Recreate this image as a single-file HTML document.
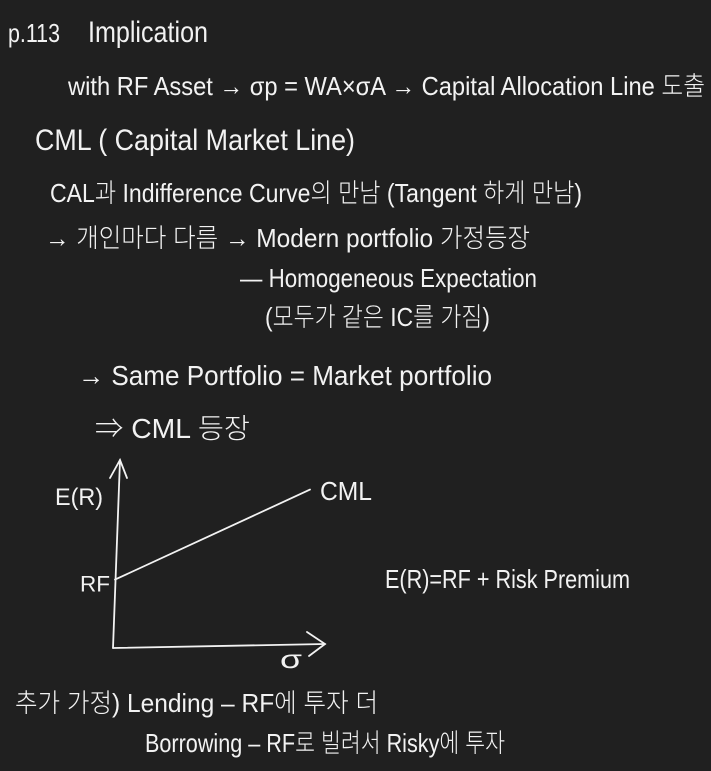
<!DOCTYPE html>
<html>
<head>
<meta charset="utf-8">
<style>
  html,body{margin:0;padding:0;background:#202020;}
  svg{display:block;}
  text{fill:#f2f2f2;font-family:"Liberation Sans","Noto Sans CJK KR",sans-serif;font-weight:300;}
</style>
</head>
<body>
<svg id="note" width="711" height="771" viewBox="0 0 711 771">
  <rect width="711" height="771" fill="#202020"/>
  <text x="8" y="42" font-size="26" textLength="52" lengthAdjust="spacingAndGlyphs">p.113</text>
  <text x="88" y="42" font-size="30" textLength="120" lengthAdjust="spacingAndGlyphs">Implication</text>
  <text x="68" y="95" font-size="26" textLength="637" lengthAdjust="spacingAndGlyphs">with RF Asset → σp = WA×σA → Capital Allocation Line 도출</text>
  <text x="35" y="150" font-size="30" textLength="320" lengthAdjust="spacingAndGlyphs">CML ( Capital Market Line)</text>
  <text x="50" y="202" font-size="26" textLength="532" lengthAdjust="spacingAndGlyphs">CAL과 Indifference Curve의 만남 (Tangent 하게 만남)</text>
  <text x="45" y="247" font-size="26" textLength="485" lengthAdjust="spacingAndGlyphs">→ 개인마다 다름 → Modern portfolio 가정등장</text>
  <text x="240" y="287" font-size="26" textLength="297" lengthAdjust="spacingAndGlyphs">— Homogeneous  Expectation</text>
  <text x="265" y="326" font-size="26" textLength="225" lengthAdjust="spacingAndGlyphs">(모두가 같은 IC를 가짐)</text>
  <text x="78" y="385" font-size="28" textLength="414" lengthAdjust="spacingAndGlyphs">→ Same Portfolio = Market portfolio</text>
  <text x="95" y="438" font-size="28" textLength="155" lengthAdjust="spacingAndGlyphs">⇒ CML 등장</text>

  <g id="chart"></g>

  <text x="385" y="588" font-size="26" textLength="245" lengthAdjust="spacingAndGlyphs">E(R)=RF + Risk Premium</text>
  <text x="15" y="712" font-size="26" textLength="363" lengthAdjust="spacingAndGlyphs">추가 가정) Lending – RF에 투자 더</text>
  <text x="145" y="752" font-size="26" textLength="360" lengthAdjust="spacingAndGlyphs">Borrowing – RF로 빌려서 Risky에 투자</text>
</svg>
<script>
const riskValues = [0, 1];
const returnValues = [0.38, 0.88];
const axisLabels = ["E(R)", "σ", "RF", "CML"];

const X0 = 115, X1 = 325, Y0 = 648, Y1 = 460;
function sx(v){ return X0 + v * 195; }
function sy(v){ return Y0 - v * 180; }

const ns = "http://www.w3.org/2000/svg";
const g = document.getElementById("chart");
function mk(tag, attrs){
  const el = document.createElementNS(ns, tag);
  for (const k in attrs) el.setAttribute(k, attrs[k]);
  g.appendChild(el);
  return el;
}
const st = {stroke:"#f2f2f2","stroke-width":"1.8",fill:"none","stroke-linecap":"round"};

const yAxis = mk("path", Object.assign({d:`M${X0-2},${Y0} L${X0+5},${Y1}`}, st));


const yArrow = mk("path", Object.assign({d:`M${X0-5},${Y1+18} L${X0+5},${Y1} L${X0+12},${Y1+18}`}, st));


const xAxis = mk("path", Object.assign({d:`M${X0-2},${Y0} L${X1},${Y0-4}`}, st));


const xArrow = mk("path", Object.assign({d:`M${X1-18},${Y0-16} L${X1},${Y0-4} L${X1-16},${Y0+8}`}, st));



const pts = riskValues.map((r,i)=>`${sx(r)},${sy(returnValues[i])}`).join(" L");
const cml = mk("path", Object.assign({d:"M"+pts}, st));



function label(txt, x, y, size, w){
  const t = mk("text", {x:x, y:y, "font-size":size, textLength:w, lengthAdjust:"spacingAndGlyphs"});
  t.textContent = txt;
  return t;
}
const l1 = label(axisLabels[0], 55, 505, 24, 48);


const l2 = label(axisLabels[1], 280, 668, 26, 22);


const l3 = label(axisLabels[2], 80, sy(returnValues[0]) + 12, 22, 30);


const l4 = label(axisLabels[3], 320, 500, 26, 52);


</script>
</body>
</html>
